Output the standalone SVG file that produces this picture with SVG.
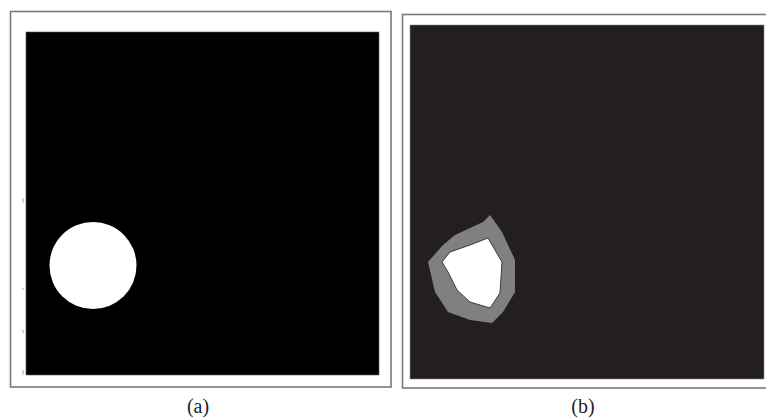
<svg xmlns="http://www.w3.org/2000/svg" width="766" height="419" viewBox="0 0 766 419">
<style>
.frame{fill:#ffffff;stroke:#7a7a7a;stroke-width:1.6}
.lbl{font-family:"Liberation Serif","DejaVu Serif",serif;font-size:20px;fill:#222;text-anchor:middle}
.tick{stroke:#aaaaaa;stroke-width:1}
</style>
<rect width="766" height="419" fill="#ffffff"/>
<g id="panel-a">
<rect class="frame" x="10.5" y="11.5" width="380.5" height="375.5"/>
<rect x="26" y="32" width="353" height="343" fill="#000000" stroke="#555" stroke-width="0.6"/>
<circle cx="93" cy="265.5" r="43.5" fill="#ffffff"/>
<line class="tick" x1="23" y1="198" x2="23" y2="203"/>
<line class="tick" x1="23" y1="288" x2="23" y2="290"/>
<line class="tick" x1="23" y1="330" x2="23" y2="333"/>
<line class="tick" x1="23" y1="370" x2="23" y2="375"/>
<text class="lbl" x="198" y="413">(a)</text>
</g>
<g id="panel-b">
<rect class="frame" x="402.5" y="14.5" width="370" height="373.5"/>
<rect x="410" y="25" width="354" height="354" fill="#231f20" stroke="#888" stroke-width="0.6"/>
<polygon fill="#808080" points="490,215 502,232 515,260 515,292 503,312 492,323 470,320 448,312 435,292 428,262 443,245 455,235 483,222"/>
<polygon fill="#ffffff" stroke="#3a3a3a" stroke-width="1" points="488,238 502,262 500,293 490,308 470,302 457,290 448,272 442,262 450,252 470,245"/>
<text class="lbl" x="583" y="413">(b)</text>
</g>
<g id="connectors"/>
</svg>
